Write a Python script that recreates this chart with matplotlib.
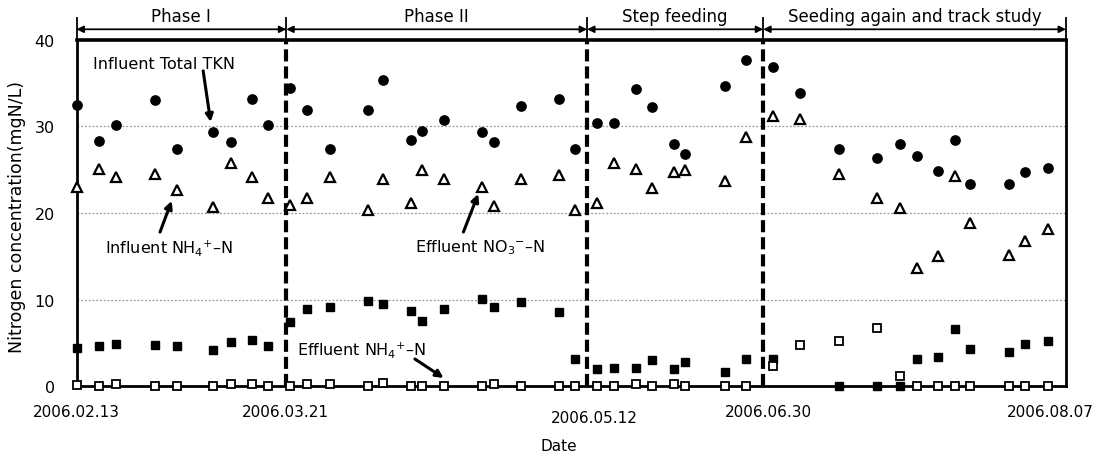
import numpy as np
import matplotlib
matplotlib.use("Agg")
import matplotlib.pyplot as plt

plt.rcParams['font.family'] = ['DejaVu Sans']

# relative sample position along the time axis (0 = 2006.02.13, 100 = right frame)
pos = [0.0, 2.3, 4.0, 7.9, 10.2, 13.8, 15.6, 17.7, 19.4, 21.6,
       23.3, 25.6, 29.5, 31.0, 33.8, 34.9, 37.1, 41.0, 42.2, 44.9,
       48.8, 50.4, 52.6, 54.3, 56.5, 58.2, 60.4, 61.5, 65.5, 67.7,
       70.4, 73.1, 77.1, 80.9, 83.2, 84.9, 87.1, 88.8, 90.3, 94.2,
       95.9, 98.2]

tkn_in = [32.5, 28.3, 30.1, 33.0, 27.4, 29.4, 28.2, 33.1, 30.1, 34.4,
          31.9, 27.4, 31.9, 35.3, 28.4, 29.5, 30.7, 29.3, 28.2, 32.4,
          33.1, 27.4, 30.4, 30.4, 34.3, 32.2, 28.0, 26.8, 34.6, 37.6,
          36.9, 33.9, 27.4, 26.3, 28.0, 26.6, 24.9, 28.4, 23.4, 23.3,
          24.7, 25.2]

nh4_in = [23.0, 25.1, 24.2, 24.5, 22.7, 20.7, 25.8, 24.2, 21.7, 20.9,
          21.7, 24.2, 20.3, 23.9, 21.1, 25.0, 23.9, 23.0, 20.8, 23.9,
          24.4, 20.3, 21.2, 25.8, 25.1, 22.9, 24.7, 25.0, 23.7, 28.8,
          31.2, 30.8, 24.5, 21.7, 20.6, 13.6, 15.0, 24.3, 18.8, 15.1,
          16.8, 18.1]

no3_eff = [4.4, 4.6, 4.9, 4.8, 4.6, 4.2, 5.1, 5.4, 4.7, 7.4,
           8.9, 9.2, 9.8, 9.5, 8.7, 7.5, 8.9, 10.1, 9.1, 9.7,
           8.6, 3.2, 2.0, 2.1, 2.1, 3.0, 2.0, 2.8, 1.6, 3.2,
           3.2, np.nan, 0.0, 0.0, 0.0, 3.2, 3.4, 6.6, 4.3, 4.0,
           4.9, 5.2]

nh4_eff = [0.1, 0.0, 0.3, 0.0, 0.0, 0.0, 0.3, 0.3, 0.0, 0.0,
           0.3, 0.3, 0.0, 0.35, 0.0, 0.0, 0.0, 0.0, 0.3, 0.0,
           0.0, 0.0, 0.0, 0.0, 0.3, 0.0, 0.3, 0.0, 0.0, 0.0,
           2.4, 4.8, 5.2, 6.7, 1.2, 0.0, 0.0, 0.0, 0.0, 0.0,
           0.0, 0.0]

phase_edges = [0.0, 21.2, 51.6, 69.4, 100.0]
phase_names = ["Phase I", "Phase II", "Step feeding", "Seeding again and track study"]

tick_pos = [0.0, 21.1, 52.3, 69.9, 98.4]
tick_labels = ["2006.02.13", "2006.03.21", "2006.05.12", "2006.06.30", "2006.08.07"]

fig = plt.figure(figsize=(11.04, 4.56), dpi=100)
ax = fig.add_axes([76.5 / 1104, 1 - 387.3 / 456, 989.5 / 1104, 346.6 / 456])

ax.set_xlim(0, 100)
ax.set_ylim(0, 40)

# grid
for g in [10, 20, 30]:
    ax.axhline(g, color='#999999', lw=0.9, ls=(0, (1.5, 1.5)), zorder=1)

# phase separators
for e in phase_edges[1:-1]:
    ax.plot([e, e], [0, 40], color='k', lw=3, ls=(0, (2.9, 1.2)), zorder=2)

# series
ax.plot(pos, tkn_in, 'o', color='k', ms=6.7, clip_on=False, zorder=4)
ax.plot(pos, nh4_in, '^', mfc='white', mec='k', mew=1.6, ms=7.5, clip_on=False, zorder=4)
ax.plot(pos, no3_eff, 's', color='k', ms=6.3, clip_on=False, zorder=4)
ax.plot(pos, nh4_eff, 's', mfc='white', mec='k', mew=1.3, ms=5.2, clip_on=False, zorder=5)

# frame
for side in ['left', 'right', 'bottom']:
    ax.spines[side].set_linewidth(2.0)
ax.spines['top'].set_linewidth(2.6)

ax.set_yticks([0, 10, 20, 30, 40])
ax.tick_params(axis='y', length=0, pad=15.5, labelsize=11.5)
ax.set_xticks(tick_pos)
ax.set_xticklabels(tick_labels)
ax.tick_params(axis='x', length=0, pad=13, labelsize=11)
ax.xaxis.get_major_ticks()[2].set_pad(17)

ax.set_ylabel("Nitrogen concentration(mgN/L)", fontsize=12.5)
ax.yaxis.set_label_coords(-0.051, 0.49)
ax.set_xlabel("Date", fontsize=11)
ax.xaxis.set_label_coords(0.487, -0.148)

# phase header arrows
for i in range(len(phase_names)):
    a, b = phase_edges[i], phase_edges[i + 1]
    ax.annotate("", xy=(b, 41.2), xytext=(a, 41.2), annotation_clip=False,
                arrowprops=dict(arrowstyle='<|-|>', color='k', lw=1.3,
                                mutation_scale=10, shrinkA=0, shrinkB=0))
    ax.text((a + b) / 2, 42.7, phase_names[i], ha='center', va='center',
            fontsize=12, clip_on=False)
for e in phase_edges:
    ax.plot([e, e], [40, 42.5], color='k', lw=1.3, clip_on=False)

# series labels
arrow_kw = dict(arrowstyle='-|>', color='k', lw=2.2, mutation_scale=11, shrinkA=0, shrinkB=0)
ax.text(1.67, 37.2, "Influent Total TKN", fontsize=11.5, va='center')
ax.annotate("", xy=(13.56, 30.5), xytext=(12.8, 36.4), arrowprops=arrow_kw)
ax.text(2.9, 16.1, "Influent NH$_4$$^{+}$\u2013N", fontsize=11.5, va='center')
ax.annotate("", xy=(9.62, 21.4), xytext=(8.44, 17.8), arrowprops=arrow_kw)
ax.text(34.2, 16.1, "Effluent NO$_3$$^{-}$\u2013N", fontsize=11.5, va='center')
ax.annotate("", xy=(40.6, 22.2), xytext=(39.1, 17.8), arrowprops=arrow_kw)
ax.text(22.3, 4.3, "Effluent NH$_4$$^{+}$\u2013N", fontsize=11.5, va='center')
ax.annotate("", xy=(37.1, 0.96), xytext=(34.2, 3.15), arrowprops=arrow_kw)

fig.savefig("out.png", dpi=100)
